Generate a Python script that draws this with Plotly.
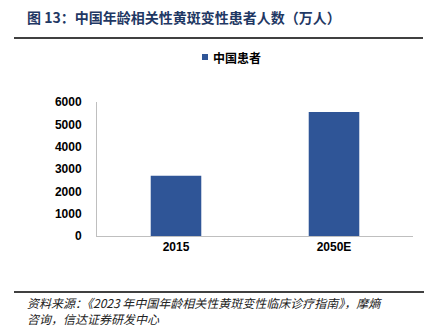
import plotly.graph_objects as go

categories = ["2015", "2050E"]
patients = [2700, 5550]
y_ticks = [0, 1000, 2000, 3000, 4000, 5000, 6000]
series_name = "中国患者"
title_text = "图 13：中国年龄相关性黄斑变性患者人数（万人）"
source_line1 = "资料来源：《2023 年中国年龄相关性黄斑变性临床诊疗指南》，摩熵"
source_line2 = "咨询，信达证券研发中心"

W, H = 433, 328
L, R, T, B = 97, 20, 102, 92
PW = W - L - R
PH = H - T - B


def px(x):
    return (x - L) / PW


def py(y):
    return (H - B - y) / PH


CJK = "Noto Sans CJK SC"
LAT = "Liberation Sans, Arial"

fig = go.Figure()
fig.add_trace(go.Bar(
    x=categories, y=patients, name=series_name,
    marker=dict(color="#2F5597", line=dict(width=0)),
    width=0.32,
))

fig.update_layout(
    width=W, height=H,
    margin=dict(l=L, r=R, t=T, b=B),
    paper_bgcolor="white", plot_bgcolor="white",
    showlegend=False,
    xaxis=dict(
        showline=True, linecolor="#BFBFBF", linewidth=1,
        ticks="", showgrid=False,
        tickfont=dict(family=LAT, size=12, color="#000000", weight="bold"),
    ),
    yaxis=dict(
        range=[0, 6000], tickvals=y_ticks,
        showline=True, linecolor="#BFBFBF", linewidth=1,
        ticks="", showgrid=False, zeroline=False,
        tickfont=dict(family=LAT, size=12, color="#000000", weight="bold"),
        ticklabelstandoff=12,
    ),
)

# title
fig.add_annotation(
    x=px(25), y=py(17), xref="paper", yref="paper",
    text=title_text, showarrow=False, xanchor="left", yanchor="middle",
    font=dict(family=CJK, size=14, color="#1F3864", weight="bold"),
)
fig.add_shape(type="line", xref="paper", yref="paper",
              x0=px(14), x1=px(423), y0=py(38), y1=py(38),
              line=dict(color="#000000", width=1.5))

# legend
fig.add_shape(type="rect", xref="paper", yref="paper",
              x0=px(202), x1=px(208), y0=py(54), y1=py(60),
              fillcolor="#2F5597", line=dict(width=0))
fig.add_annotation(
    x=px(211), y=py(58), xref="paper", yref="paper",
    text=series_name, showarrow=False, xanchor="left", yanchor="middle",
    font=dict(family=CJK, size=12, color="#000000", weight="bold"),
)

# source
fig.add_shape(type="line", xref="paper", yref="paper",
              x0=px(14), x1=px(424), y0=py(292), y1=py(292),
              line=dict(color="#000000", width=1.5))
fig.add_annotation(
    x=px(25), y=py(310), xref="paper", yref="paper",
    text="<i>" + source_line1 + "<br>" + source_line2 + "</i>",
    showarrow=False, xanchor="left", yanchor="middle", align="left",
    font=dict(family=CJK, size=12, color="#222222"),
)

fig.write_html("out.html")
